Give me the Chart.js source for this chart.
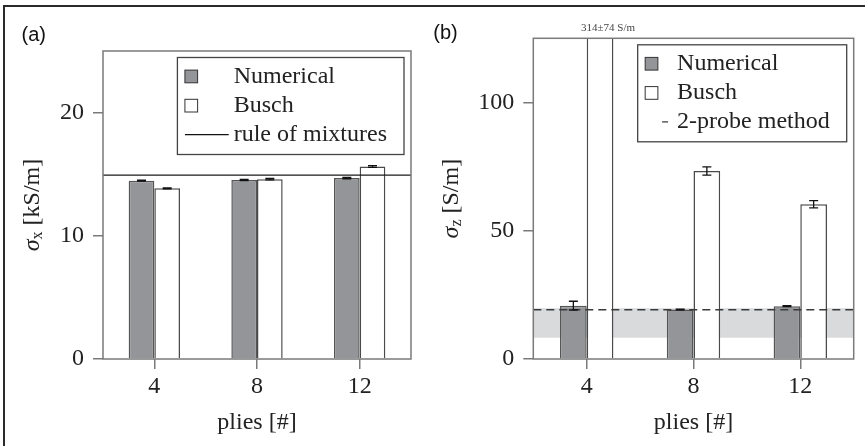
<!DOCTYPE html>
<html>
<head>
<meta charset="utf-8">
<script src="https://cdn.jsdelivr.net/npm/chart.js@4"></script>
<style>
  html, body { margin: 0; padding: 0; background: #fff; }
  #wrap { position: relative; width: 865px; height: 446px; overflow: hidden; }
  #frame { position: absolute; left: 3px; top: 5px; width: 900px; height: 500px;
           border-top: 2px solid #2a2a2a; border-left: 2px solid #2a2a2a; }
  #chartA { position: absolute; left: 0; top: 0; }
  #chartB { position: absolute; left: 430px; top: 0; }
</style>
</head>
<body>
<div id="wrap">
  <div id="frame"></div>
  <canvas id="chartA" width="430" height="446"></canvas>
  <canvas id="chartB" width="435" height="446"></canvas>
</div>
<script>
// Number of plies per laminate
const plies = ['4', '8', '12'];

// In-plane conductivity sigma_x [kS/m]
const sigmaXNumerical = [14.47, 14.53, 14.69];
const sigmaXNumericalErr = [0.04, 0.05, 0.06];
const sigmaXBusch = [13.85, 14.60, 15.63];
const sigmaXBuschErr = [0.04, 0.06, 0.07];
const ruleOfMixtures = 14.93;
const sigmaXTicks = [0, 10, 20];
const sigmaXMax = 25;

// Through-thickness conductivity sigma_z [S/m]
const sigmaZNumerical = [20.8, 19.3, 20.6];
const sigmaZNumericalErr = [1.7, 0.15, 0.2];
const sigmaZBusch = [314, 73.3, 60.3];
const sigmaZBuschErr = [74, 1.6, 1.4];
const twoProbe = 19.2;
const twoProbeRange = [8.3, 19.8];
const sigmaZTicks = [0, 50, 100];
const sigmaZMax = 125;

const SERIF = "'Liberation Serif', 'Times New Roman', serif";
const SANS = "'Liberation Sans', Arial, sans-serif";
const INK = '#222';
const AXIS = '#7a7a7a';
const NUM_FILL = '#939598';

// Panel decorations: reference band/line, frame, error bars, legend, y title, labels
const panelDecor = {
  id: 'panelDecor',
  beforeDatasetsDraw(chart, args, o) {
    const { ctx, chartArea: a, scales: { y } } = chart;
    if (o.band) {
      const yTop = y.getPixelForValue(o.band[1]);
      const yBot = y.getPixelForValue(o.band[0]);
      ctx.save();
      ctx.fillStyle = '#d9dadc';
      ctx.fillRect(a.left, yTop, a.right - a.left, yBot - yTop);
      ctx.restore();
    }
  },
  afterDatasetsDraw(chart, args, o) {
    const { ctx, chartArea: a, scales: { y } } = chart;
    ctx.save();
    // reference line
    const ly = y.getPixelForValue(o.refValue);
    ctx.strokeStyle = o.refColor;
    ctx.lineWidth = 1.3;
    ctx.setLineDash(o.refDash || []);
    ctx.beginPath(); ctx.moveTo(a.left, ly); ctx.lineTo(a.right, ly); ctx.stroke();
    ctx.setLineDash([]);

    // plot frame
    ctx.strokeStyle = AXIS;
    ctx.lineWidth = 1.5;
    ctx.strokeRect(a.left, a.top, a.right - a.left, a.bottom - a.top);

    // error bars and out-of-range labels
    ctx.strokeStyle = '#111';
    ctx.lineWidth = 1.3;
    chart.data.datasets.forEach((ds, di) => {
      const meta = chart.getDatasetMeta(di);
      meta.data.forEach((bar, i) => {
        const v = ds.data[i], e = ds.errors[i];
        if (v + e > y.max) {
          ctx.fillStyle = '#444';
          ctx.font = `11px ${SERIF}`;
          ctx.textAlign = 'center';
          ctx.textBaseline = 'middle';
          ctx.fillText(`${v}±${e} S/m`, bar.x + 8, a.top - 10);
          return;
        }
        const yt = y.getPixelForValue(v + e), yb = y.getPixelForValue(v - e);
        const hw = 4.5;
        ctx.beginPath();
        ctx.moveTo(bar.x, yt); ctx.lineTo(bar.x, yb);
        ctx.moveTo(bar.x - hw, yt); ctx.lineTo(bar.x + hw, yt);
        ctx.moveTo(bar.x - hw, yb); ctx.lineTo(bar.x + hw, yb);
        ctx.stroke();
      });
    });
    ctx.restore();
  },
  afterDraw(chart, args, o) {
    const { ctx, chartArea: a } = chart;
    ctx.save();

    // legend box in the upper right of the plot
    const L = o.legend;
    ctx.font = `24px ${SERIF}`;
    const entries = chart.data.datasets.map(ds => ({ kind: 'box', fill: ds.backgroundColor, text: ds.label }));
    entries.push({ kind: L.lineKind, text: L.lineLabel });
    const maxW = Math.max(...entries.map(e => ctx.measureText(e.text).width));
    const right = a.right - 7;
    const top = a.top + 6.5;
    const w = L.textOffset + maxW + 17;
    const left = right - w;
    const h = 97;
    ctx.fillStyle = '#fff';
    ctx.fillRect(left, top, w, h);
    ctx.strokeStyle = '#444';
    ctx.lineWidth = 1.3;
    ctx.strokeRect(left, top, w, h);
    const rows = [25.3, 54.5, 83.6];
    entries.forEach((e, k) => {
      const base = top + rows[k];
      if (e.kind === 'box') {
        ctx.fillStyle = e.fill;
        ctx.fillRect(left + 7.5, base - 12.7, 12.7, 12.7);
        ctx.strokeStyle = '#333';
        ctx.lineWidth = 1;
        ctx.strokeRect(left + 7.5, base - 12.7, 12.7, 12.7);
      } else if (e.kind === 'line') {
        ctx.strokeStyle = '#111';
        ctx.lineWidth = 1.2;
        ctx.beginPath(); ctx.moveTo(left + 7.5, base - 6.5); ctx.lineTo(left + L.textOffset - 5, base - 6.5); ctx.stroke();
      } else {
        ctx.strokeStyle = '#333';
        ctx.lineWidth = 1.2;
        ctx.beginPath(); ctx.moveTo(left + L.textOffset - 15, base - 6.5); ctx.lineTo(left + L.textOffset - 9, base - 6.5); ctx.stroke();
      }
      ctx.fillStyle = INK;
      ctx.textAlign = 'left';
      ctx.textBaseline = 'alphabetic';
      ctx.font = `24px ${SERIF}`;
      ctx.fillText(e.text, left + L.textOffset, base);
    });

    // rotated y-axis title with a subscript
    const ys = chart.scales.y;
    ctx.font = `24px ${SERIF}`;
    const tickW = Math.max(...ys.ticks.map(t => ctx.measureText(String(t.value)).width));
    const cx = a.left - 19 - tickW - 27;
    const cy = (a.top + a.bottom) / 2;
    const T = o.yTitle;
    ctx.font = `italic 24px ${SERIF}`;
    const w1 = ctx.measureText(T.sym).width;
    ctx.font = `16px ${SERIF}`;
    const w2 = ctx.measureText(T.sub).width;
    ctx.font = `24px ${SERIF}`;
    const w3 = ctx.measureText(T.unit).width;
    const total = w1 + w2 + w3;
    ctx.translate(cx, cy);
    ctx.rotate(-Math.PI / 2);
    ctx.fillStyle = INK;
    ctx.textAlign = 'left';
    ctx.textBaseline = 'middle';
    let x = -total / 2;
    ctx.font = `italic 24px ${SERIF}`;
    ctx.fillText(T.sym, x, 0); x += w1;
    ctx.font = `16px ${SERIF}`;
    ctx.fillText(T.sub, x, 5); x += w2;
    ctx.font = `24px ${SERIF}`;
    ctx.fillText(T.unit, x, 0);
    ctx.setTransform(1, 0, 0, 1, 0, 0);

    // panel label
    ctx.font = `20px ${SANS}`;
    ctx.fillStyle = '#111';
    ctx.textAlign = 'left';
    ctx.textBaseline = 'middle';
    ctx.fillText(o.panel.text, o.panel.x, o.panel.y);
    ctx.restore();
  }
};

function makePanel(canvasId, cfg) {
  return new Chart(document.getElementById(canvasId), {
    type: 'bar',
    data: {
      labels: plies,
      datasets: [
        { label: 'Numerical', data: cfg.num, errors: cfg.numErr, backgroundColor: NUM_FILL,
          borderColor: '#555', borderWidth: 1.5, clip: 0 },
        { label: 'Busch', data: cfg.busch, errors: cfg.buschErr, backgroundColor: '#ffffff',
          borderColor: '#4a4a4a', borderWidth: 1.5, clip: 0 }
      ]
    },
    options: {
      responsive: false,
      animation: false,
      devicePixelRatio: 1,
      datasets: { bar: { categoryPercentage: 0.5, barPercentage: 1.0 } },
      layout: { padding: { left: 0, right: cfg.padRight, top: cfg.padTop, bottom: 0 } },
      scales: {
        x: {
          offset: true,
          grid: { display: true, drawOnChartArea: false, drawTicks: true, tickLength: 10, offset: false, color: AXIS, lineWidth: 1.5 },
          border: { display: false },
          ticks: { font: { family: SERIF, size: 24 }, color: INK, padding: 3, maxRotation: 0, autoSkip: false },
          title: { display: true, text: 'plies [#]', font: { family: SERIF, size: 24 }, color: INK, padding: { top: 0, bottom: 9 } },
          afterFit: s => { s.height = 87; }
        },
        y: {
          min: 0, max: cfg.max,
          grid: { display: true, drawOnChartArea: false, drawTicks: true, tickLength: 10, color: AXIS, lineWidth: 1.5 },
          border: { display: false },
          ticks: { font: { family: SERIF, size: 24 }, color: INK, padding: 9 },
          afterBuildTicks: s => { s.ticks = cfg.ticks.map(v => ({ value: v })); },
          afterFit: s => { s.width = cfg.axisWidth; }
        }
      },
      plugins: {
        legend: { display: false },
        tooltip: { enabled: false },
        panelDecor: {
          refValue: cfg.ref, refDash: cfg.refDash, refColor: cfg.refColor, band: cfg.band,
          legend: cfg.legend, yTitle: cfg.yTitle, panel: cfg.panel
        }
      }
    },
    plugins: [panelDecor]
  });
}

makePanel('chartA', {
  num: sigmaXNumerical, numErr: sigmaXNumericalErr,
  busch: sigmaXBusch, buschErr: sigmaXBuschErr,
  ref: ruleOfMixtures, refDash: [], refColor: '#1a1a1a', band: null,
  max: sigmaXMax, ticks: sigmaXTicks,
  padRight: 19, padTop: 51, axisWidth: 103,
  legend: { lineKind: 'line', lineLabel: 'rule of mixtures', textOffset: 56.3 },
  yTitle: { sym: 'σ', sub: 'x', unit: ' [kS/m]' },
  panel: { text: '(a)', x: 21.5, y: 35 }
});

makePanel('chartB', {
  num: sigmaZNumerical, numErr: sigmaZNumericalErr,
  busch: sigmaZBusch, buschErr: sigmaZBuschErr,
  ref: twoProbe, refDash: [8, 5], refColor: '#3a3a3a', band: twoProbeRange,
  max: sigmaZMax, ticks: sigmaZTicks,
  padRight: 11.3, padTop: 38.3, axisWidth: 103.3,
  legend: { lineKind: 'dash', lineLabel: '2-probe method', textOffset: 39.4 },
  yTitle: { sym: 'σ', sub: 'z', unit: ' [S/m]' },
  panel: { text: '(b)', x: 3.3, y: 33 }
});
</script>
</body>
</html>
